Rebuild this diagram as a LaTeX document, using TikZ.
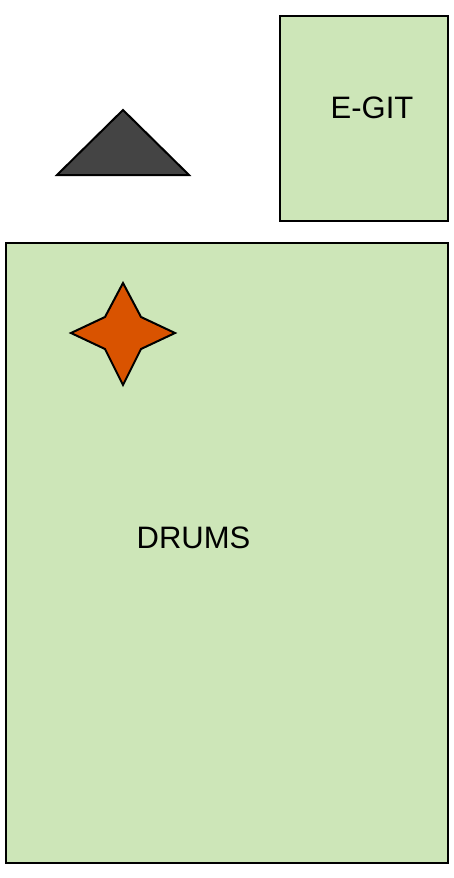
\documentclass[tikz,border=0pt]{standalone}
\usepackage{fontspec}
\setmainfont{Liberation Sans}
\usetikzlibrary{positioning}
\definecolor{roomgreen}{RGB}{205,230,184}
\definecolor{starorange}{RGB}{217,83,0}
\definecolor{wedgegray}{RGB}{68,68,68}
\tikzset{
  zone/.style={draw=black, line width=2pt, fill=roomgreen, inner sep=0pt},
  zonetext/.style={font=\fontsize{31}{35}\selectfont, text=black, inner sep=0pt}
}

\begin{document}
\begin{tikzpicture}[x=1pt,y=-1pt]
    \useasboundingbox (0,0) rectangle (454,878);
    % boxes
    \node[zone, minimum width=168pt, minimum height=205pt] (egit) at (364,118.5) {};
    \node[zonetext] (egitlabel) at (372,108) {E-GIT};
    \node[zone, minimum width=442pt, minimum height=620pt] (drums) at (227,553) {};
    \node[zonetext] (drumslabel) at (193.5,538) {DRUMS};
    % wedge and star
    \draw[line width=2pt, line join=miter, fill=wedgegray] (123,110) -- (189,175) -- (57,175) -- cycle;
    \draw[line width=2pt, line join=miter, fill=starorange]
         (123,283) -- (141,317) -- (175,333) -- (141,349)
      -- (123,385) -- (105,349) -- (71,333) -- (105,317) -- cycle;
  \end{tikzpicture}
\end{document}
